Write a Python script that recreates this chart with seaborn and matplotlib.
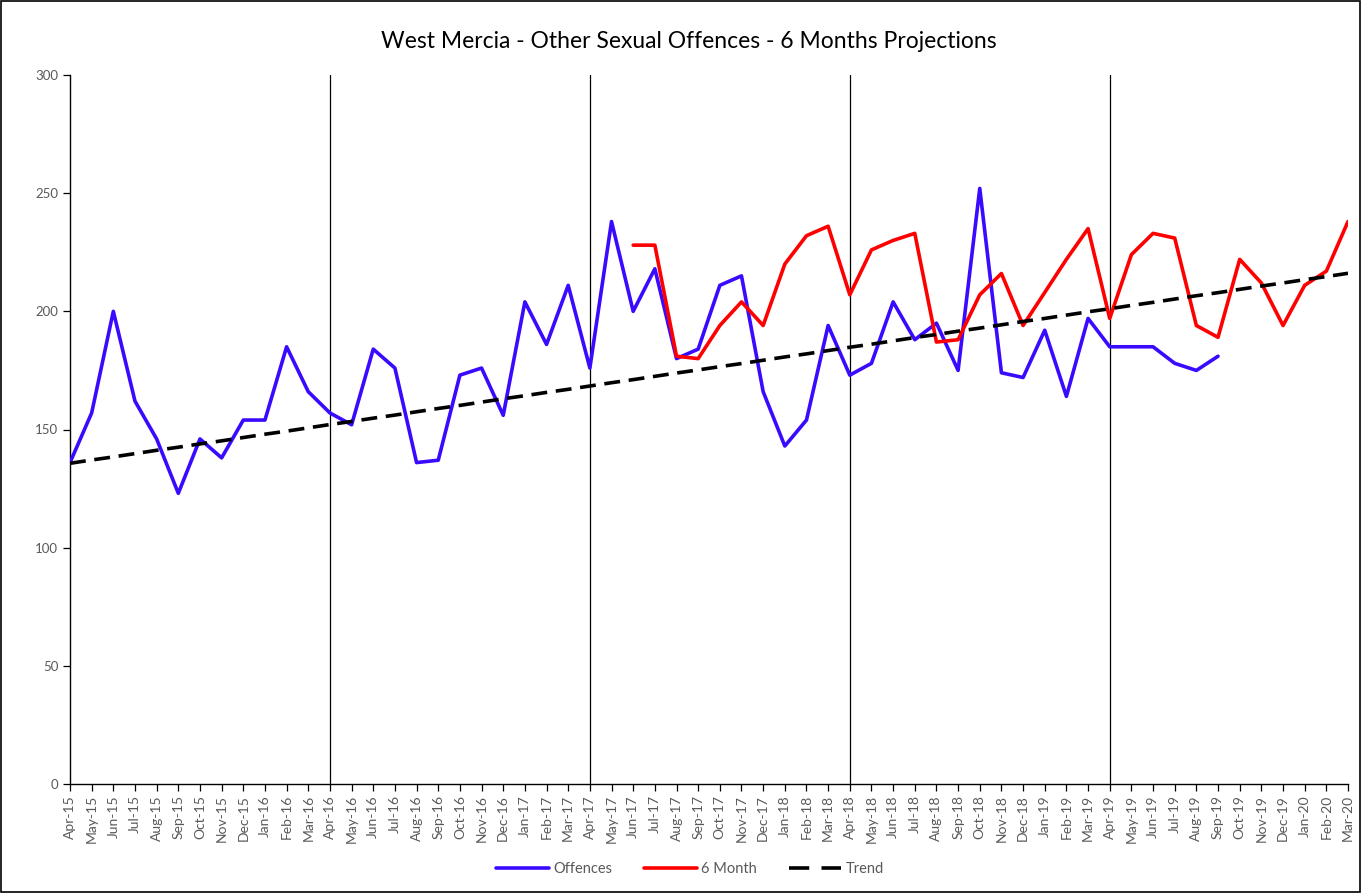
import matplotlib
matplotlib.use("Agg")
import matplotlib.pyplot as plt
import seaborn as sns
import pandas as pd
import numpy as np
from matplotlib.patches import Rectangle
from matplotlib.lines import Line2D

months = ["Apr-15","May-15","Jun-15","Jul-15","Aug-15","Sep-15","Oct-15","Nov-15","Dec-15","Jan-16","Feb-16","Mar-16",
          "Apr-16","May-16","Jun-16","Jul-16","Aug-16","Sep-16","Oct-16","Nov-16","Dec-16","Jan-17","Feb-17","Mar-17",
          "Apr-17","May-17","Jun-17","Jul-17","Aug-17","Sep-17","Oct-17","Nov-17","Dec-17","Jan-18","Feb-18","Mar-18",
          "Apr-18","May-18","Jun-18","Jul-18","Aug-18","Sep-18","Oct-18","Nov-18","Dec-18","Jan-19","Feb-19","Mar-19",
          "Apr-19","May-19","Jun-19","Jul-19","Aug-19","Sep-19","Oct-19","Nov-19","Dec-19","Jan-20","Feb-20","Mar-20"]

offences = [136, 157, 200, 162, 146, 123, 146, 138, 154, 154, 185, 166,
            157, 152, 184, 176, 136, 137, 173, 176, 156, 204, 186, 211,
            176, 238, 200, 218, 180, 184, 211, 215, 166, 143, 154, 194,
            173, 178, 204, 188, 195, 175, 252, 174, 172, 192, 164, 197,
            185, 185, 185, 178, 175, 181]

six_month_start = "Jun-17"
six_month = [228, 228, 181, 180, 194, 204, 194, 220, 232, 236,
             207, 226, 230, 233, 187, 188, 207, 216, 194, 208, 222, 235,
             197, 224, 233, 231, 194, 189, 222, 212, 194, 211, 217, 238]

trend = [135.7, 137.1, 138.4, 139.8, 141.2, 142.5, 143.9, 145.2, 146.6, 148.0, 149.3, 150.7,
         152.1, 153.4, 154.8, 156.1, 157.5, 158.9, 160.2, 161.6, 163.0, 164.3, 165.7, 167.0,
         168.4, 169.8, 171.1, 172.5, 173.9, 175.2, 176.6, 177.9, 179.3, 180.7, 182.0, 183.4,
         184.8, 186.1, 187.5, 188.9, 190.2, 191.6, 192.9, 194.3, 195.7, 197.0, 198.4, 199.8,
         201.1, 202.5, 203.8, 205.2, 206.6, 207.9, 209.3, 210.7, 212.0, 213.4, 214.7, 216.1]

year_starts = ["Apr-16", "Apr-17", "Apr-18", "Apr-19"]

sns.set_theme(style="white")
plt.rcParams['font.family'] = ['Lato', 'DejaVu Sans']

fig = plt.figure(figsize=(13.61, 8.93), dpi=100)
ax = fig.add_axes([70/1361, 1-784/893, (1348-70)/1361, (784-75)/893])

idx = np.arange(len(months))
df_off = pd.DataFrame({"x": idx[:len(offences)], "y": offences})
s0 = months.index(six_month_start)
df_six = pd.DataFrame({"x": idx[s0:s0+len(six_month)], "y": six_month})
df_tr = pd.DataFrame({"x": idx, "y": trend})

for m in year_starts:
    ax.axvline(months.index(m), color="black", lw=0.9, zorder=1)

sns.lineplot(data=df_off, x="x", y="y", ax=ax, color="#3A0AFF", lw=2.6, label="Offences", zorder=3)
sns.lineplot(data=df_six, x="x", y="y", ax=ax, color="#FF0000", lw=2.6, label="6 Month", zorder=4)
sns.lineplot(data=df_tr, x="x", y="y", ax=ax, color="black", lw=2.6, label="Trend", zorder=5,
             linestyle=(0, (4.4, 2.4)))

ax.set_xlim(0, len(months)-1)
ax.set_ylim(0, 300)
ax.set_yticks(range(0, 301, 50))
ax.set_xticks(idx)
ax.set_xticklabels(months, rotation=90, fontsize=10, color="#595959")
ax.tick_params(axis="y", labelsize=9.5, labelcolor="#595959", length=5, width=0.9, color="black", direction="out", left=True)
ax.tick_params(axis="x", length=5, width=0.9, color="black", direction="out", bottom=True, pad=3)
ax.set_xlabel("")
ax.set_ylabel("")
for side in ["top", "right"]:
    ax.spines[side].set_visible(False)
for side in ["left", "bottom"]:
    ax.spines[side].set_color("black")
    ax.spines[side].set_linewidth(1.0)
ax.grid(False)

ax.get_legend().remove()
handles, labels = ax.get_legend_handles_labels()
handles[2] = Line2D([], [], color="black", lw=2.6, linestyle=(0, (5.6, 3.4)))
fig.legend(handles, labels, loc="center", bbox_to_anchor=(0.507, 1-869/893), ncol=3, frameon=False,
           fontsize=10.5, handlelength=3.6, columnspacing=2.2, handletextpad=0.3, labelcolor="#595959")

fig.text(0.506, 1-42/893, "West Mercia - Other Sexual Offences - 6 Months Projections",
         ha="center", va="center", fontsize=16.5, color="black")

fig.patches.append(Rectangle((0.001, 0.001), 0.998, 0.998, transform=fig.transFigure,
                             fill=False, edgecolor="black", lw=1.2))

fig.savefig("out.png", dpi=100)
